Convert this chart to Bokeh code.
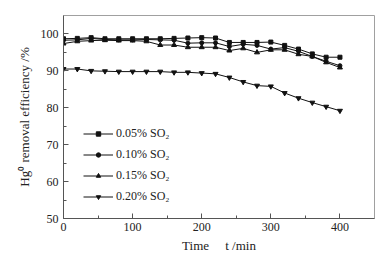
from bokeh.plotting import figure
from bokeh.models import Range1d, FixedTicker, Legend, LegendItem
from bokeh.embed import file_html
from bokeh.resources import INLINE

time_min = [0, 20, 40, 60, 80, 100, 120, 140, 160, 180, 200, 220, 240, 260, 280, 300, 320, 340, 360, 380, 400]
so2_005 = [98.7, 98.8, 99.0, 98.7, 98.7, 98.7, 98.7, 98.7, 98.8, 98.9, 99.0, 98.9, 97.7, 97.7, 97.7, 97.8, 96.9, 95.9, 94.6, 93.7, 93.7]
so2_010 = [98.3, 98.4, 98.8, 98.5, 98.4, 98.4, 98.5, 98.4, 98.3, 97.5, 97.6, 97.6, 96.6, 97.2, 96.9, 95.9, 96.3, 95.3, 93.9, 92.6, 91.4]
so2_015 = [97.4, 98.0, 98.2, 98.3, 98.2, 98.2, 98.0, 97.0, 97.0, 96.4, 96.4, 96.4, 95.5, 96.1, 95.0, 95.7, 95.7, 94.5, 93.9, 92.3, 90.9]
so2_020 = [90.5, 90.5, 90.0, 89.9, 89.8, 89.8, 89.8, 89.8, 89.6, 89.6, 89.4, 89.2, 88.2, 87.0, 86.0, 85.8, 84.0, 82.6, 81.4, 80.3, 79.2]
series_labels = ["0.05% SO\u2082", "0.10% SO\u2082", "0.15% SO\u2082", "0.20% SO\u2082"]
x_ticks = [0, 100, 200, 300, 400]
y_ticks = [50, 60, 70, 80, 90, 100]

FONT = "Liberation Serif"

p = figure(width=378, height=255, output_backend="svg", toolbar_location=None,
           x_range=Range1d(0, 450), y_range=Range1d(50, 105),
           min_border_left=63, min_border_right=4, min_border_top=15, min_border_bottom=35)
p.grid.visible = False
p.outline_line_color = "#a0a0a0"
p.background_fill_color = "white"
p.border_fill_color = "white"

for ax in (p.xaxis[0], p.yaxis[0]):
    ax.axis_line_color = "#555555"
    ax.major_tick_line_color = "#555555"
    ax.minor_tick_line_color = "#555555"
    ax.major_tick_in = 5
    ax.major_tick_out = 0
    ax.minor_tick_in = 3
    ax.minor_tick_out = 0
    ax.major_label_text_font = FONT
    ax.major_label_text_font_size = "12px"
    ax.major_label_text_color = "#222222"
    ax.axis_label_text_font = FONT
    ax.axis_label_text_font_size = "13px"
    ax.axis_label_text_font_style = "normal"
    ax.axis_label_text_color = "#222222"

p.xaxis.ticker = FixedTicker(ticks=x_ticks, minor_ticks=[50, 150, 250, 350])
p.yaxis.ticker = FixedTicker(ticks=y_ticks, minor_ticks=[55, 65, 75, 85, 95])
p.xaxis.axis_label = "Time\u00a0\u00a0\u00a0\u00a0\u00a0t /min"
p.yaxis.axis_label = "Hg\u2070 removal efficiency /%"
p.xaxis.major_label_standoff = 4
p.xaxis.axis_label_standoff = 4
p.yaxis.major_label_standoff = 5
p.yaxis.axis_label_standoff = 6

items = []
data = [so2_005, so2_010, so2_015, so2_020]
markers = ["square", "circle", "triangle", "inverted_triangle"]
sizes = [4, 4, 5, 5]
for ys, mk, lab, sz in zip(data, markers, series_labels, sizes):
    ln = p.line(time_min, ys, line_color="#111111", line_width=1)
    sc = p.scatter(time_min, ys, marker=mk, size=sz, fill_color="#111111", line_color="#111111")
    items.append(LegendItem(label=lab, renderers=[ln, sc]))

legend = Legend(items=items, location=(20, 12))
legend.padding = 0
legend.margin = 0
legend.spacing = 2
legend.glyph_width = 30
legend.glyph_height = 11
legend.label_height = 19
legend.label_standoff = 3
legend.border_line_color = None
legend.background_fill_alpha = 0
legend.label_text_font = FONT
legend.label_text_font_size = "12px"
legend.label_text_color = "#222222"
p.add_layout(legend)

open("out.html", "w").write(file_html(p, INLINE))
